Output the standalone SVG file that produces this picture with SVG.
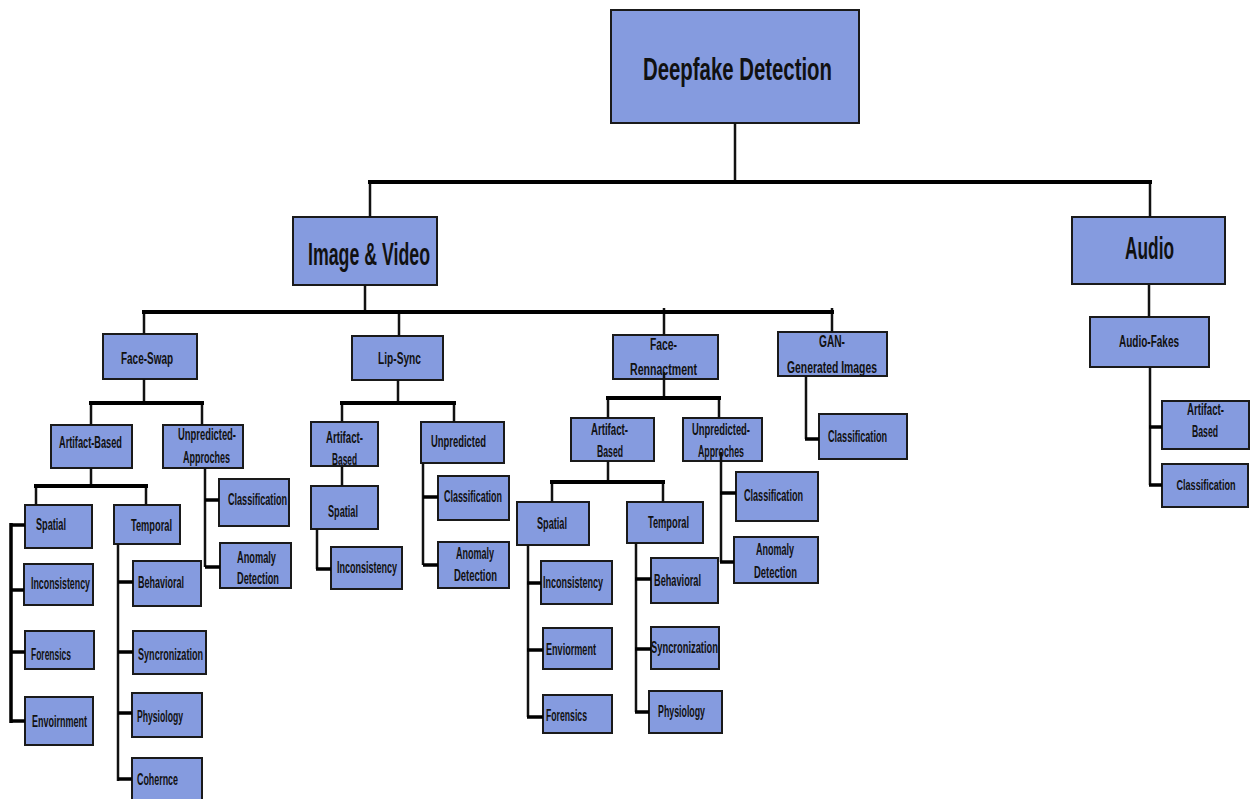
<svg xmlns="http://www.w3.org/2000/svg" width="1253" height="799" viewBox="0 0 1253 799">
<style>
.box{fill:#859BDF;stroke:#1a1a1a;stroke-width:2}
.t{font-family:"Liberation Sans Narrow","Liberation Sans",Arial,sans-serif;font-weight:bold;fill:#111;font-size:16px}
.big{font-size:31px}
.l{stroke:#111;stroke-width:2.5;fill:none}
.k{stroke:#000;stroke-width:4;fill:none}
</style>
<rect width="1253" height="799" fill="#fff"/>
<g id="nodes">
<g id="root"><rect class="box" x="611" y="10" width="248" height="113"/><text class="t big" x="643" y="80" textLength="189" lengthAdjust="spacingAndGlyphs">Deepfake Detection</text></g>
<g id="imgvid"><rect class="box" x="293" y="217" width="144" height="68"/><text class="t big" x="308" y="265" textLength="122" lengthAdjust="spacingAndGlyphs">Image &amp; Video</text></g>
<g id="audio"><rect class="box" x="1072" y="217" width="153" height="67"/><text class="t big" x="1125" y="259" textLength="49" lengthAdjust="spacingAndGlyphs">Audio</text></g>
<g id="faceswap"><rect class="box" x="103" y="334" width="94" height="45"/><text class="t" x="121" y="364" textLength="52" lengthAdjust="spacingAndGlyphs">Face-Swap</text></g>
<g id="lipsync"><rect class="box" x="352" y="336" width="91" height="44"/><text class="t" x="378" y="364" textLength="43" lengthAdjust="spacingAndGlyphs">Lip-Sync</text></g>
<g id="facerenn"><rect class="box" x="613" y="335" width="105" height="44"/><text class="t" x="650" y="350" textLength="27" lengthAdjust="spacingAndGlyphs">Face-</text><text class="t" x="630" y="375" textLength="67" lengthAdjust="spacingAndGlyphs">Rennactment</text></g>
<g id="gan"><rect class="box" x="778" y="332" width="109" height="44"/><text class="t" x="819" y="347" textLength="26" lengthAdjust="spacingAndGlyphs">GAN-</text><text class="t" x="787" y="373" textLength="90" lengthAdjust="spacingAndGlyphs">Generated Images</text></g>
<g id="audiofakes"><rect class="box" x="1090" y="317" width="119" height="50"/><text class="t" x="1119" y="347" textLength="60" lengthAdjust="spacingAndGlyphs">Audio-Fakes</text></g>

<g id="fs-artifact"><rect class="box" x="51" y="425" width="81" height="43"/><text class="t" x="59" y="448" textLength="63" lengthAdjust="spacingAndGlyphs">Artifact-Based</text></g>
<g id="fs-unpred"><rect class="box" x="163" y="425" width="80" height="43"/><text class="t" x="178" y="440" textLength="58" lengthAdjust="spacingAndGlyphs">Unpredicted-</text><text class="t" x="183" y="463" textLength="47" lengthAdjust="spacingAndGlyphs">Approches</text></g>
<g id="fs-spatial"><rect class="box" x="25" y="505" width="67" height="43"/><text class="t" x="36" y="530" textLength="30" lengthAdjust="spacingAndGlyphs">Spatial</text></g>
<g id="fs-temporal"><rect class="box" x="114" y="505" width="66" height="39"/><text class="t" x="131" y="531" textLength="41" lengthAdjust="spacingAndGlyphs">Temporal</text></g>
<g id="fs-inconsistency"><rect class="box" x="24" y="564" width="69" height="41"/><text class="t" x="31" y="589" textLength="59" lengthAdjust="spacingAndGlyphs">Inconsistency</text></g>
<g id="fs-forensics"><rect class="box" x="25" y="631" width="69" height="38"/><text class="t" x="31" y="660" textLength="40" lengthAdjust="spacingAndGlyphs">Forensics</text></g>
<g id="fs-envoirnment"><rect class="box" x="25" y="697" width="68" height="48"/><text class="t" x="32" y="727" textLength="55" lengthAdjust="spacingAndGlyphs">Envoirnment</text></g>
<g id="fs-behavioral"><rect class="box" x="133" y="561" width="68" height="45"/><text class="t" x="138" y="588" textLength="46" lengthAdjust="spacingAndGlyphs">Behavioral</text></g>
<g id="fs-sync"><rect class="box" x="133" y="631" width="73" height="43"/><text class="t" x="138" y="660" textLength="65" lengthAdjust="spacingAndGlyphs">Syncronization</text></g>
<g id="fs-physiology"><rect class="box" x="132" y="693" width="70" height="44"/><text class="t" x="137" y="722" textLength="46" lengthAdjust="spacingAndGlyphs">Physiology</text></g>
<g id="fs-coherence"><rect class="box" x="132" y="758" width="70" height="46"/><text class="t" x="137" y="785" textLength="41" lengthAdjust="spacingAndGlyphs">Cohernce</text></g>
<g id="fs-class"><rect class="box" x="219" y="479" width="70" height="47"/><text class="t" x="228" y="505" textLength="59" lengthAdjust="spacingAndGlyphs">Classification</text></g>
<g id="fs-anomaly"><rect class="box" x="220" y="543" width="71" height="45"/><text class="t" x="237" y="563" textLength="39" lengthAdjust="spacingAndGlyphs">Anomaly</text><text class="t" x="237" y="584" textLength="42" lengthAdjust="spacingAndGlyphs">Detection</text></g>

<g id="ls-artifact"><rect class="box" x="311" y="422" width="67" height="44"/><text class="t" x="326" y="443" textLength="37" lengthAdjust="spacingAndGlyphs">Artifact-</text><text class="t" x="332" y="465" textLength="25" lengthAdjust="spacingAndGlyphs">Based</text></g>
<g id="ls-spatial"><rect class="box" x="311" y="486" width="67" height="43"/><text class="t" x="328" y="517" textLength="30" lengthAdjust="spacingAndGlyphs">Spatial</text></g>
<g id="ls-inconsistency"><rect class="box" x="331" y="547" width="71" height="42"/><text class="t" x="337" y="573" textLength="60" lengthAdjust="spacingAndGlyphs">Inconsistency</text></g>
<g id="ls-unpred"><rect class="box" x="421" y="422" width="83" height="41"/><text class="t" x="431" y="447" textLength="55" lengthAdjust="spacingAndGlyphs">Unpredicted</text></g>
<g id="ls-class"><rect class="box" x="438" y="476" width="71" height="44"/><text class="t" x="444" y="502" textLength="58" lengthAdjust="spacingAndGlyphs">Classification</text></g>
<g id="ls-anomaly"><rect class="box" x="438" y="542" width="71" height="46"/><text class="t" x="456" y="559" textLength="38" lengthAdjust="spacingAndGlyphs">Anomaly</text><text class="t" x="454" y="581" textLength="43" lengthAdjust="spacingAndGlyphs">Detection</text></g>

<g id="fr-artifact"><rect class="box" x="571" y="418" width="83" height="43"/><text class="t" x="591" y="435" textLength="37" lengthAdjust="spacingAndGlyphs">Artifact-</text><text class="t" x="597" y="457" textLength="26" lengthAdjust="spacingAndGlyphs">Based</text></g>
<g id="fr-unpred"><rect class="box" x="683" y="418" width="79" height="43"/><text class="t" x="692" y="435" textLength="58" lengthAdjust="spacingAndGlyphs">Unpredicted-</text><text class="t" x="698" y="457" textLength="46" lengthAdjust="spacingAndGlyphs">Approches</text></g>
<g id="fr-spatial"><rect class="box" x="517" y="502" width="72" height="43"/><text class="t" x="537" y="529" textLength="30" lengthAdjust="spacingAndGlyphs">Spatial</text></g>
<g id="fr-temporal"><rect class="box" x="627" y="502" width="76" height="41"/><text class="t" x="648" y="528" textLength="41" lengthAdjust="spacingAndGlyphs">Temporal</text></g>
<g id="fr-inconsistency"><rect class="box" x="541" y="561" width="71" height="43"/><text class="t" x="543" y="588" textLength="60" lengthAdjust="spacingAndGlyphs">Inconsistency</text></g>
<g id="fr-enviorment"><rect class="box" x="543" y="628" width="69" height="41"/><text class="t" x="546" y="655" textLength="50" lengthAdjust="spacingAndGlyphs">Enviorment</text></g>
<g id="fr-forensics"><rect class="box" x="543" y="695" width="69" height="38"/><text class="t" x="546" y="721" textLength="41" lengthAdjust="spacingAndGlyphs">Forensics</text></g>
<g id="fr-behavioral"><rect class="box" x="651" y="558" width="67" height="45"/><text class="t" x="654" y="586" textLength="47" lengthAdjust="spacingAndGlyphs">Behavioral</text></g>
<g id="fr-sync"><rect class="box" x="651" y="627" width="68" height="42"/><text class="t" x="651" y="653" textLength="67" lengthAdjust="spacingAndGlyphs">Syncronization</text></g>
<g id="fr-physiology"><rect class="box" x="649" y="691" width="73" height="42"/><text class="t" x="658" y="717" textLength="47" lengthAdjust="spacingAndGlyphs">Physiology</text></g>
<g id="fr-class"><rect class="box" x="736" y="472" width="82" height="49"/><text class="t" x="744" y="501" textLength="59" lengthAdjust="spacingAndGlyphs">Classification</text></g>
<g id="fr-anomaly"><rect class="box" x="734" y="537" width="84" height="46"/><text class="t" x="756" y="555" textLength="38" lengthAdjust="spacingAndGlyphs">Anomaly</text><text class="t" x="754" y="578" textLength="43" lengthAdjust="spacingAndGlyphs">Detection</text></g>

<g id="gan-class"><rect class="box" x="819" y="414" width="88" height="45"/><text class="t" x="828" y="442" textLength="59" lengthAdjust="spacingAndGlyphs">Classification</text></g>
<g id="af-artifact"><rect class="box" x="1162" y="401" width="87" height="48"/><text class="t" x="1205.5" y="415" text-anchor="middle" textLength="37" lengthAdjust="spacingAndGlyphs">Artifact-</text><text class="t" x="1205" y="437" text-anchor="middle" textLength="26" lengthAdjust="spacingAndGlyphs">Based</text></g>
<g id="af-class"><rect class="box" x="1162" y="464" width="86" height="43"/><text class="t" x="1206" y="490" text-anchor="middle" style="font-size:14px" textLength="59" lengthAdjust="spacingAndGlyphs">Classification</text></g>
</g>
<g id="connectors">
<path class="l" d="M735 123V182M370 182V217M1150 182V217M365 285V312M144 312V334M399 312V336M664 308V335M832 308V332"/>
<path class="k" d="M368 182H1152M142 312H834"/>
<path class="l" d="M144 379V403M91 403V425M202 403V425M91 468V486M36 486V505M146 486V505"/>
<path class="k" d="M89 403H204M34 486H148"/>
<path class="k" style="stroke-width:3.5" d="M11 523V723M11 525H25M11 590H24M11 652H25M11 721H25"/>
<path class="l" d="M118 544V781"/>
<path class="k" style="stroke-width:3.5" d="M118 582H133M118 652H133M118 713H132M118 779H132"/>
<path class="l" d="M205 468V567"/>
<path class="k" style="stroke-width:3.5" d="M205 500H219M205 567H220"/>
<path class="l" d="M398 380V403M342 403V422M454 403V422M342 466V486M317 529V569M423 463V565"/>
<path class="k" d="M340 403H456"/>
<path class="k" style="stroke-width:3.5" d="M316 569H331M423 497H438M423 565H438"/>
<path class="l" d="M664 372V398M608 398V418M719 398V418M608 461V482M552 482V502M663 482V502M528 545V717M636 543V712M721 452V562M806 376V439M1149 285V317M1150 367V485"/>
<path class="k" d="M606 398H721M550 482H665"/>
<path class="k" style="stroke-width:3.5" d="M527 583H541M527 650H543M527 717H543M635 579H651M635 649H651M635 712H649M720 493H736M720 562H734M805 439H819M1149 427H1162M1149 485H1162"/>
</g>
</svg>
